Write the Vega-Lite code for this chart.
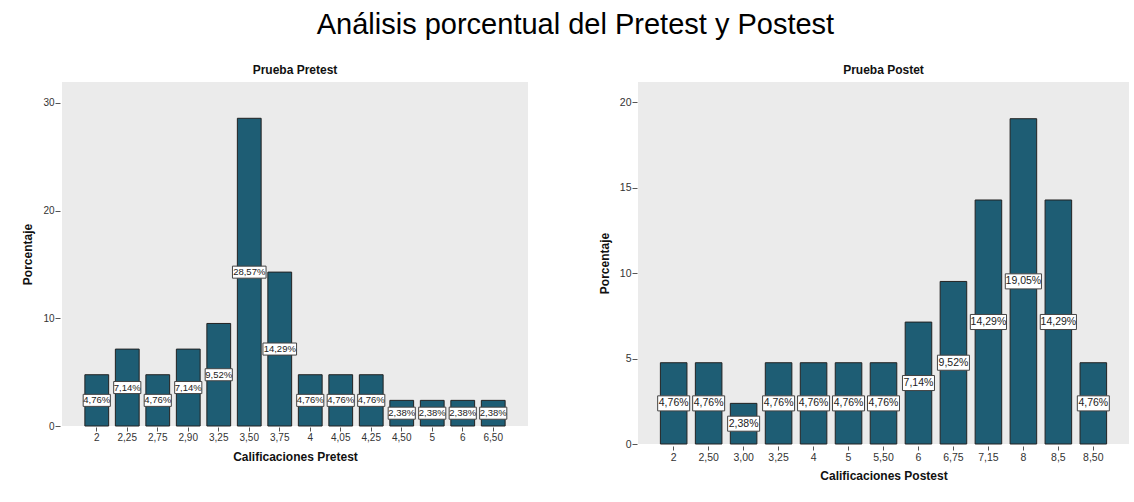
{
  "$schema": "https://vega.github.io/schema/vega-lite/v6.json",
  "background": "white",
  "padding": {"left": 21, "top": 11, "right": 2, "bottom": 0},
  "title": {"text": "Análisis porcentual del Pretest y Postest", "fontSize": 29, "font": "Liberation Sans", "fontWeight": "normal", "color": "#000000", "anchor": "middle", "offset": 24},
  "datasets": {
    "pretest": [
      {"calificacion": "2", "porcentaje": 4.76, "etiqueta": "4,76%"},
      {"calificacion": "2,25", "porcentaje": 7.14, "etiqueta": "7,14%"},
      {"calificacion": "2,75", "porcentaje": 4.76, "etiqueta": "4,76%"},
      {"calificacion": "2,90", "porcentaje": 7.14, "etiqueta": "7,14%"},
      {"calificacion": "3,25", "porcentaje": 9.52, "etiqueta": "9,52%"},
      {"calificacion": "3,50", "porcentaje": 28.57, "etiqueta": "28,57%"},
      {"calificacion": "3,75", "porcentaje": 14.29, "etiqueta": "14,29%"},
      {"calificacion": "4", "porcentaje": 4.76, "etiqueta": "4,76%"},
      {"calificacion": "4,05", "porcentaje": 4.76, "etiqueta": "4,76%"},
      {"calificacion": "4,25", "porcentaje": 4.76, "etiqueta": "4,76%"},
      {"calificacion": "4,50", "porcentaje": 2.38, "etiqueta": "2,38%"},
      {"calificacion": "5", "porcentaje": 2.38, "etiqueta": "2,38%"},
      {"calificacion": "6", "porcentaje": 2.38, "etiqueta": "2,38%"},
      {"calificacion": "6,50", "porcentaje": 2.38, "etiqueta": "2,38%"}
    ],
    "postest": [
      {"calificacion": "2", "porcentaje": 4.76, "etiqueta": "4,76%"},
      {"calificacion": "2,50", "porcentaje": 4.76, "etiqueta": "4,76%"},
      {"calificacion": "3,00", "porcentaje": 2.38, "etiqueta": "2,38%"},
      {"calificacion": "3,25", "porcentaje": 4.76, "etiqueta": "4,76%"},
      {"calificacion": "4", "porcentaje": 4.76, "etiqueta": "4,76%"},
      {"calificacion": "5", "porcentaje": 4.76, "etiqueta": "4,76%"},
      {"calificacion": "5,50", "porcentaje": 4.76, "etiqueta": "4,76%"},
      {"calificacion": "6", "porcentaje": 7.14, "etiqueta": "7,14%"},
      {"calificacion": "6,75", "porcentaje": 9.52, "etiqueta": "9,52%"},
      {"calificacion": "7,15", "porcentaje": 14.29, "etiqueta": "14,29%"},
      {"calificacion": "8", "porcentaje": 19.05, "etiqueta": "19,05%"},
      {"calificacion": "8,5", "porcentaje": 14.29, "etiqueta": "14,29%"},
      {"calificacion": "8,50", "porcentaje": 4.76, "etiqueta": "4,76%"}
    ]
  },
  "spacing": 70,
  "hconcat": [
    {
      "width": 466,
      "height": 344,
      "title": {"text": "Prueba Pretest", "fontSize": 12, "fontWeight": "bold", "font": "Liberation Sans", "color": "#111111", "offset": 5},
      "data": {"name": "pretest"},
      "layer": [
        {
          "mark": {"type": "bar", "fill": "#1e5d74", "stroke": "#222222", "strokeWidth": 1},
          "encoding": {
            "x": {"field": "calificacion", "type": "nominal", "sort": null,
              "scale": {"paddingInner": 0.22, "paddingOuter": 0.75},
              "axis": {"title": "Calificaciones Pretest", "labelAngle": 0, "offset": 1, "tickSize": 4, "labelPadding": 1, "titlePadding": 9, "labelFontSize": 10}},
            "y": {"field": "porcentaje", "type": "quantitative",
              "scale": {"domain": [0, 31.94], "nice": false},
              "axis": {"values": [0, 10, 20, 30], "title": "Porcentaje", "offset": 2, "tickSize": 5, "labelPadding": 1, "titlePadding": 8, "labelFontSize": 10}}
          }
        },
        {
          "encoding": {
            "x": {"field": "calificacion", "type": "nominal", "sort": null},
            "y": {"field": "porcentaje", "type": "quantitative", "scale": {"domain": [0, 63.88], "nice": false}, "axis": null}
          },
          "layer": [
            {
              "mark": {"type": "point", "filled": true, "fill": "white", "stroke": "#444444", "strokeWidth": 1, "size": 784, "opacity": 1},
              "encoding": {
                "shape": {"condition": {"test": "length(datum.etiqueta) > 5", "value": "M-1.2,-0.43H1.2V0.43H-1.2Z"}, "value": "M-0.97,-0.43H0.97V0.43H-0.97Z"}
              }
            },
            {
              "mark": {"type": "text", "fontSize": 9.5, "font": "Liberation Sans", "color": "#222222"},
              "encoding": {"text": {"field": "etiqueta"}}
            }
          ]
        }
      ],
      "resolve": {"scale": {"y": "independent"}}
    },
    {
      "width": 491,
      "height": 362,
      "title": {"text": "Prueba Postet", "fontSize": 12, "fontWeight": "bold", "font": "Liberation Sans", "color": "#111111", "offset": 5},
      "data": {"name": "postest"},
      "layer": [
        {
          "mark": {"type": "bar", "fill": "#1e5d74", "stroke": "#222222", "strokeWidth": 1},
          "encoding": {
            "x": {"field": "calificacion", "type": "nominal", "sort": null,
              "scale": {"paddingInner": 0.24, "paddingOuter": 0.64},
              "axis": {"title": "Calificaciones Postest", "labelAngle": 0, "offset": 2, "tickSize": 4, "labelPadding": 2, "titlePadding": 8, "labelFontSize": 10.5}},
            "y": {"field": "porcentaje", "type": "quantitative",
              "scale": {"domain": [0, 21.2], "nice": false},
              "axis": {"values": [0, 5, 10, 15, 20], "title": "Porcentaje", "offset": 1, "tickSize": 5, "labelPadding": 1, "titlePadding": 8, "labelFontSize": 10.5}}
          }
        },
        {
          "encoding": {
            "x": {"field": "calificacion", "type": "nominal", "sort": null},
            "y": {"field": "porcentaje", "type": "quantitative", "scale": {"domain": [0, 42.4], "nice": false}, "axis": null}
          },
          "layer": [
            {
              "mark": {"type": "point", "filled": true, "fill": "white", "stroke": "#444444", "strokeWidth": 1, "size": 1024, "opacity": 1},
              "encoding": {
                "shape": {"condition": {"test": "length(datum.etiqueta) > 5", "value": "M-1.13,-0.47H1.13V0.47H-1.13Z"}, "value": "M-1,-0.47H1V0.47H-1Z"}
              }
            },
            {
              "mark": {"type": "text", "fontSize": 10.5, "font": "Liberation Sans", "color": "#222222"},
              "encoding": {"text": {"field": "etiqueta"}}
            }
          ]
        }
      ],
      "resolve": {"scale": {"y": "independent"}}
    }
  ],
  "config": {
    "view": {"fill": "#ebebeb", "stroke": null},
    "font": "Liberation Sans",
    "axis": {"domain": false, "grid": false, "tickColor": "#555555", "labelColor": "#333333", "labelFont": "Liberation Sans", "titleFont": "Liberation Sans", "titleFontWeight": "bold", "titleFontSize": 12, "titleColor": "#111111"}
  }
}
